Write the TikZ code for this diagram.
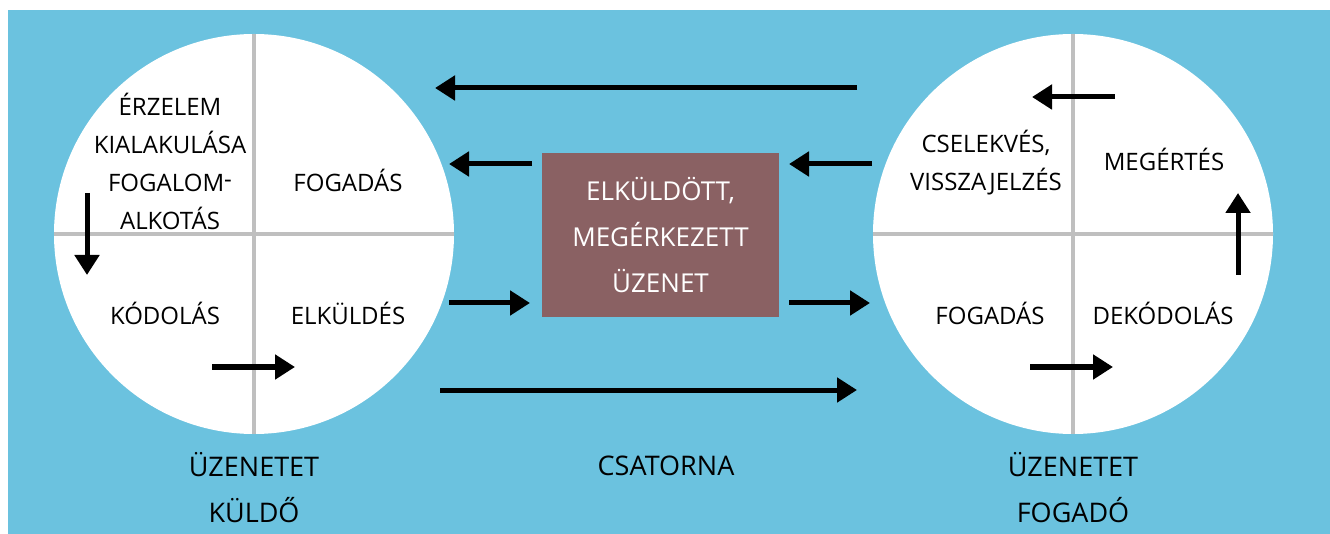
\documentclass[tikz,border=0pt]{standalone}
\usepackage{fontspec}
\setmainfont{Open Sans}
\usetikzlibrary{arrows.meta}

\definecolor{channelblue}{HTML}{6BC2DF}
\definecolor{crossgray}{HTML}{BFBFBF}
\definecolor{msgbrown}{HTML}{8A6163}

\tikzset{
    flow/.style={line width=5pt, -{Triangle[length=20pt,width=24pt]}},
    cross/.style={crossgray, line width=3.5pt},
    quarterlabel/.style={font=\fontsize{24}{38}\selectfont, align=center, inner sep=0pt},
    sidelabel/.style={font=\fontsize{27}{46}\selectfont, align=center, inner sep=0pt},
    msgbox/.style={fill=msgbrown, text=white, minimum width=237pt, minimum height=164pt,
        font=\fontsize{26}{46}\selectfont, align=center, inner sep=0pt}
}

\begin{document}
\begin{tikzpicture}[x=1pt, y=-1pt]

    \useasboundingbox (0,0) rectangle (1330,534);
    \fill[channelblue] (8,10) rectangle (1330,534);

    %% Sender

    % Circle and quarters
    \coordinate (S) at (254,234);
    \fill[white] (S) circle (200pt);
    \draw[cross] (S) ++(-200,0) -- ++(400,0);
    \draw[cross] (S) ++(0,-200) -- ++(0,400);

    % Quarter labels
    \node[quarterlabel] (emotion) at (170,161) {ÉRZELEM\\KIALAKULÁSA\\FOGALOM\raisebox{.15em}{-}\\ALKOTÁS};
    \node[quarterlabel] (receiveS) at (348,180) {FOGADÁS};
    \node[quarterlabel] (encode) at (165,313) {KÓDOLÁS};
    \node[quarterlabel] (sendS) at (348,313) {ELKÜLDÉS};

    % Inner arrows
    \coordinate (downS) at (87,193);
    \coordinate (downE) at (87,275);
    \coordinate (rightS) at (212,367);
    \coordinate (rightE) at (295,367);
    \draw[flow] (downS) -- (downE);
    \draw[flow] (rightS) -- (rightE);

    \node[sidelabel] (sender) at (254,488) {ÜZENETET\\KÜLDŐ};

    %% Channel

    \node[msgbox] (msg) at (660.5,235) {ELKÜLDÖTT,\\MEGÉRKEZETT\\ÜZENET};
    \node[sidelabel] (channel) at (666,466) {CSATORNA};

    % Feedback, right to left
    \coordinate (backTopS) at (857,88);
    \coordinate (backTopE) at (435,88);
    \coordinate (backInS) at (872,164);
    \coordinate (backInE) at (789,164);
    \coordinate (backOutS) at (532,164);
    \coordinate (backOutE) at (449,164);
    \draw[flow] (backTopS) -- (backTopE);
    \draw[flow] (backInS) -- (backInE);
    \draw[flow] (backOutS) -- (backOutE);

    % Message, left to right
    \coordinate (sendInS) at (449,303);
    \coordinate (sendInE) at (530,303);
    \coordinate (sendOutS) at (789,303);
    \coordinate (sendOutE) at (870,303);
    \coordinate (sendLowS) at (440,390);
    \coordinate (sendLowE) at (857,390);
    \draw[flow] (sendInS) -- (sendInE);
    \draw[flow] (sendOutS) -- (sendOutE);
    \draw[flow] (sendLowS) -- (sendLowE);

    %% Receiver

    % Circle and quarters
    \coordinate (R) at (1073,234);
    \fill[white] (R) circle (200pt);
    \draw[cross] (R) ++(-200,0) -- ++(400,0);
    \draw[cross] (R) ++(0,-200) -- ++(0,400);

    % Quarter labels
    \node[quarterlabel] (action) at (986,163) {CSELEKVÉS,\\VISSZAJELZÉS};
    \node[quarterlabel] (understand) at (1164,159) {MEGÉRTÉS};
    \node[quarterlabel] (receiveR) at (990,313) {FOGADÁS};
    \node[quarterlabel] (decode) at (1163,313) {DEKÓDOLÁS};

    % Inner arrows
    \coordinate (leftS) at (1115,97);
    \coordinate (leftE) at (1032,97);
    \coordinate (upS) at (1238,275);
    \coordinate (upE) at (1238,193);
    \coordinate (nextS) at (1030,367);
    \coordinate (nextE) at (1113,367);
    \draw[flow] (leftS) -- (leftE);
    \draw[flow] (upS) -- (upE);
    \draw[flow] (nextS) -- (nextE);

    \node[sidelabel] (receiver) at (1073,488) {ÜZENETET\\FOGADÓ};

\end{tikzpicture}
\end{document}
